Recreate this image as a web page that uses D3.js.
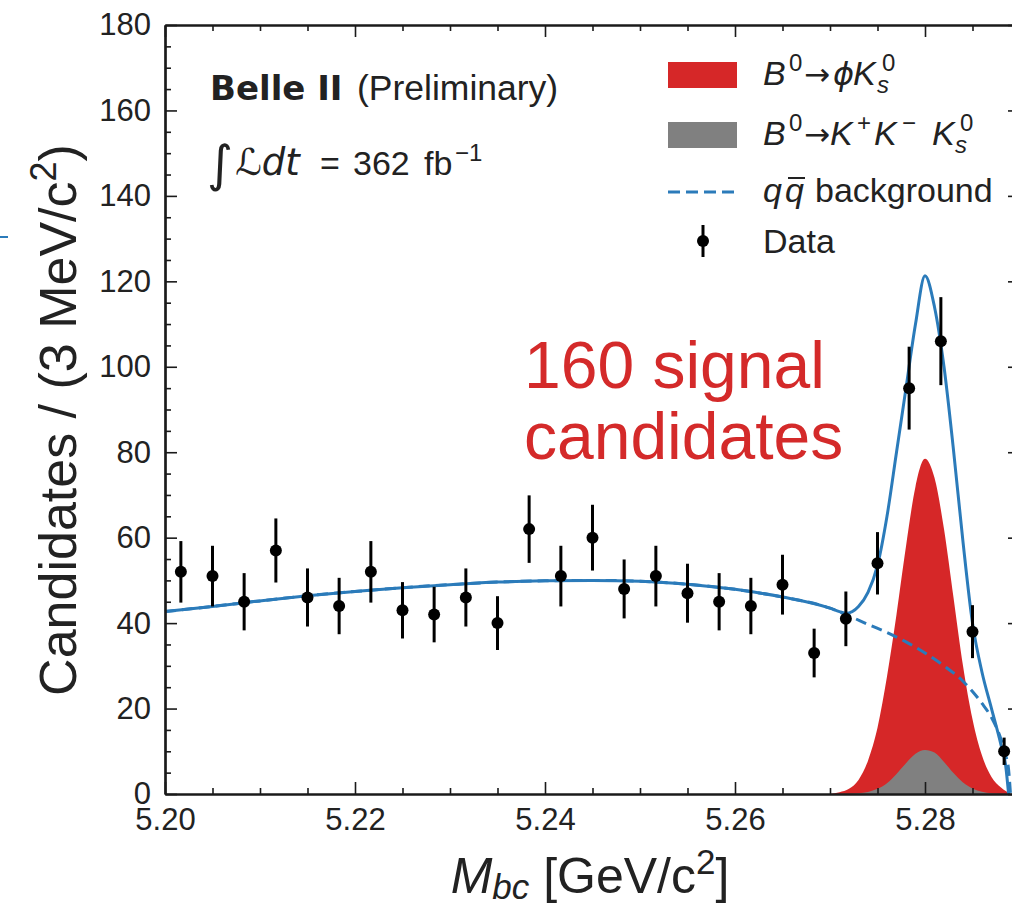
<!DOCTYPE html>
<html><head><meta charset="utf-8">
<script src="https://cdn.jsdelivr.net/npm/d3@7"></script>
<style>body{margin:0;background:#fff} svg{display:block}</style>
</head><body><svg id="c" width="1012" height="905"></svg>
<script>
// ---- data ----
const binCenters = [5.20167,5.20500,5.20833,5.21167,5.21500,5.21833,5.22167,5.22500,5.22833,5.23167,5.23500,5.23833,5.24167,5.24500,5.24833,5.25167,5.25500,5.25833,5.26167,5.26500,5.26833,5.27167,5.27500,5.27833,5.28167,5.28500,5.28833];
const counts = [52,51,45,57,46,44,52,43,42,46,40,62,51,60,48,51,47,45,44,49,33,41,54,95,106,38,10];
const errors = [7.2,7.1,6.7,7.5,6.8,6.6,7.2,6.6,6.5,6.8,6.3,7.9,7.1,7.7,6.9,7.1,6.9,6.7,6.6,7.0,5.7,6.4,7.3,9.7,10.3,6.2,3.2];

// q-qbar background (dashed)
const bkgX = [5.200,5.205,5.210,5.215,5.220,5.225,5.230,5.235,5.240,5.245,5.250,5.255,5.260,5.265,5.270,5.272,5.274,5.276,5.278,5.280,5.282,5.284,5.285,5.286,5.287,5.288,5.2885,5.2888,5.289];
const bkgY = [42.7,43.9,45.2,46.4,47.4,48.3,49.0,49.6,49.9,50.0,49.8,49.1,47.9,46.1,43.5,41.7,39.7,37.8,35.6,33.0,30.0,26.4,24.0,21.2,17.9,12.8,9.0,5.7,0];

// total fit (solid)
const totX = [5.200,5.205,5.210,5.215,5.220,5.225,5.230,5.235,5.240,5.245,5.250,5.255,5.260,5.265,5.270,5.271,5.2717,5.273,5.274,5.275,5.276,5.277,5.278,5.279,5.280,5.281,5.282,5.283,5.284,5.285,5.286,5.287,5.288,5.2885,5.2888];
const totY = [42.7,43.9,45.2,46.4,47.4,48.3,49.0,49.6,49.9,50.0,49.8,49.1,47.9,46.1,43.5,42.7,42.3,43.9,47.2,53.5,65.0,80.0,95.0,110.0,121.3,114.0,100.0,80.5,59.0,40.0,28.5,20.0,11.5,6.5,0];

// signal components
const sigX = [5.270,5.271,5.272,5.273,5.274,5.275,5.276,5.277,5.278,5.279,5.280,5.281,5.282,5.283,5.284,5.285,5.286,5.287,5.288,5.289];
const phiKsY = [0,0.4,1.2,3.3,7.8,15.5,27.5,42,58,72,78.5,74,62,46,30,17.5,9,4,1.5,0];
const kkKsY = [0,0.01,0.05,0.15,0.45,1.2,2.5,4.7,7.2,9.4,10.3,9.7,7.5,4.9,2.7,1.3,0.5,0.17,0.05,0];

const xMajor = [5.20,5.22,5.24,5.26,5.28];
const xMinor = [5.205,5.210,5.215,5.225,5.230,5.235,5.245,5.250,5.255,5.265,5.270,5.275,5.285,5.290];
const yMajor = [0,20,40,60,80,100,120,140,160,180];
const yMinor = [5,10,15,25,30,35,45,50,55,65,70,75,85,90,95,105,110,115,125,130,135,145,150,155,165,170,175];

// ---- drawing ----
const svg = d3.select("#c");
svg.append("rect").attr("width",1012).attr("height",905).attr("fill","#fff");
const x = d3.scaleLinear().domain([5.20,5.29]).range([165,1020]);
const y = d3.scaleLinear().domain([0,180]).range([794,25]);
const BLUE = "#2b7bba", RED = "#d62728", GRAY = "#808080";
const SANS = "'Liberation Sans', Arial, Helvetica, sans-serif";
const DJV = "'DejaVu Sans', sans-serif";

// small artifact at left edge
svg.append("line").attr("x1",0).attr("x2",8).attr("y1",237).attr("y2",237).attr("stroke",BLUE).attr("stroke-width",2);

const sig = sigX.map((v,i)=>({x:v, a:phiKsY[i], b:kkKsY[i]}));
svg.append("path").datum(sig).attr("fill",RED)
  .attr("d", d3.area().x(d=>x(d.x)).y0(y(0)).y1(d=>y(d.a)).curve(d3.curveMonotoneX));
svg.append("path").datum(sig).attr("fill",GRAY)
  .attr("d", d3.area().x(d=>x(d.x)).y0(y(0)).y1(d=>y(d.b)).curve(d3.curveMonotoneX));

const bkg = bkgX.map((v,i)=>[v,bkgY[i]]);
svg.append("path").datum(bkg).attr("fill","none").attr("stroke",BLUE).attr("stroke-width",3)
  .attr("stroke-dasharray","11,6")
  .attr("d", d3.line().x(d=>x(d[0])).y(d=>y(d[1])).curve(d3.curveMonotoneX));
const tot = totX.map((v,i)=>[v,totY[i]]);
svg.append("path").datum(tot).attr("fill","none").attr("stroke",BLUE).attr("stroke-width",3)
  .attr("d", d3.line().x(d=>x(d[0])).y(d=>y(d[1])).curve(d3.curveMonotoneX));

// data points
const pts = binCenters.map((v,i)=>({x:v,c:counts[i],e:errors[i]}));
const g = svg.append("g");
g.selectAll("line").data(pts).join("line")
  .attr("x1",d=>x(d.x)).attr("x2",d=>x(d.x))
  .attr("y1",d=>y(d.c-d.e)).attr("y2",d=>y(d.c+d.e))
  .attr("stroke","#000").attr("stroke-width",3);
g.selectAll("circle").data(pts).join("circle")
  .attr("cx",d=>x(d.x)).attr("cy",d=>y(d.c)).attr("r",6).attr("fill","#000");

// axes
function styleAxis(sel){
  sel.selectAll(".domain").attr("stroke","#1a1a1a").attr("stroke-width",2.2);
  sel.selectAll(".tick line").attr("stroke","#1a1a1a").attr("stroke-width",1.6);
  sel.selectAll("text").attr("font-family",SANS).attr("font-size",31).attr("fill","#222");
}
const fmtX = d3.format(".2f");
const ax = svg.append("g").attr("transform","translate(0,794)")
  .call(d3.axisBottom(x).tickValues(xMajor).tickFormat(fmtX).tickSize(-12).tickSizeOuter(0).tickPadding(14));
styleAxis(ax);
const axm = svg.append("g").attr("transform","translate(0,794)")
  .call(d3.axisBottom(x).tickValues(xMinor).tickFormat("").tickSize(-6).tickSizeOuter(0));
styleAxis(axm);
const ay = svg.append("g").attr("transform","translate(165,0)")
  .call(d3.axisLeft(y).tickValues(yMajor).tickFormat(d3.format("d")).tickSize(-12).tickSizeOuter(0).tickPadding(14));
styleAxis(ay);
const aym = svg.append("g").attr("transform","translate(165,0)")
  .call(d3.axisLeft(y).tickValues(yMinor).tickFormat("").tickSize(-6).tickSizeOuter(0));
styleAxis(aym);
[[d3.axisTop(x).tickValues(xMajor),-12,"translate(0,25)"],[d3.axisTop(x).tickValues(xMinor),-6,"translate(0,25)"],
 [d3.axisRight(y).tickValues(yMajor),-12,"translate(1020,0)"],[d3.axisRight(y).tickValues(yMinor),-6,"translate(1020,0)"]]
 .forEach(([a,s,t])=>{ const gg=svg.append("g").attr("transform",t).call(a.tickFormat("").tickSize(s).tickSizeOuter(0)); styleAxis(gg); });

// axis titles
const yl = svg.append("text").attr("transform","translate(76,420) rotate(-90)")
  .attr("text-anchor","middle").attr("font-family",SANS).attr("font-size",52).attr("fill","#222");
yl.append("tspan").text("Candidates / (3 MeV/c");
yl.append("tspan").attr("font-size",36).attr("dy",-20).text("2");
yl.append("tspan").attr("dy",20).text(")");

const xl = svg.append("text").attr("x",590).attr("y",893).attr("text-anchor","middle")
  .attr("font-family",SANS).attr("font-size",50).attr("fill","#222");
xl.append("tspan").attr("font-style","italic").text("M");
xl.append("tspan").attr("font-style","italic").attr("font-size",35).attr("dy",6).text("bc");
xl.append("tspan").attr("dy",-6).text(" [GeV/c");
xl.append("tspan").attr("font-size",35).attr("dy",-19).text("2");
xl.append("tspan").attr("dy",19).text("]");

// Belle II labels
const bt = svg.append("text").attr("x",210).attr("y",100).attr("font-size",34).attr("fill","#222");
bt.append("tspan").attr("font-family",DJV).attr("font-weight","bold").text("Belle II");
bt.append("tspan").attr("x",357).attr("font-family",SANS).attr("font-size",35.5).text("(Preliminary)");

const lt = svg.append("text").attr("y",175).attr("font-family",SANS).attr("font-size",34).attr("fill","#222");
lt.append("tspan").attr("x",207).attr("font-family",DJV).attr("font-size",50).attr("dy",6).text("∫");
lt.append("tspan").attr("x",235).attr("font-family",DJV).attr("font-style","italic").attr("font-size",37).attr("dy",-6).text("ℒdt");
lt.append("tspan").attr("x",320).text("=");
lt.append("tspan").attr("x",353).text("362");
lt.append("tspan").attr("x",424).text("fb");
lt.append("tspan").attr("x",455).attr("font-size",24).attr("dy",-14).text("−1");

// red annotation
const rt = svg.append("text").attr("font-family",SANS).attr("font-size",66).attr("fill","#d42a2a");
rt.append("tspan").attr("x",524).attr("y",388).text("160 signal");
rt.append("tspan").attr("x",524).attr("y",459).text("candidates");

// legend
const L = svg.append("g");
L.append("rect").attr("x",668).attr("y",62).attr("width",69).attr("height",26).attr("fill",RED);
L.append("rect").attr("x",668).attr("y",122).attr("width",69).attr("height",26).attr("fill",GRAY);
L.append("line").attr("x1",668).attr("x2",737).attr("y1",192).attr("y2",192).attr("stroke",BLUE).attr("stroke-width",3).attr("stroke-dasharray","12,6");
L.append("line").attr("x1",703).attr("x2",703).attr("y1",225).attr("y2",257).attr("stroke","#000").attr("stroke-width",3);
L.append("circle").attr("cx",703).attr("cy",241).attr("r",6).attr("fill","#000");

function lgText(yb){ return L.append("text").attr("y",yb).attr("font-family",SANS).attr("font-size",34).attr("fill","#222"); }
function piece(t, xp, txt, opt){
  const s = t.append("tspan").attr("x",xp).text(txt);
  if(opt.it) s.attr("font-style","italic");
  if(opt.fs) s.attr("font-size",opt.fs);
  if(opt.ff) s.attr("font-family",opt.ff);
  if(opt.dy!==undefined) s.attr("dy",opt.dy);
  return s;
}
let t1 = lgText(85);
piece(t1,763,"B",{it:1});
piece(t1,789,"0",{fs:24,dy:-14});
piece(t1,804,"→",{ff:DJV,fs:31,dy:14});
piece(t1,833,"ϕ",{it:1,ff:DJV,fs:32});
piece(t1,853,"K",{it:1});
piece(t1,882,"0",{fs:24,dy:-14});
piece(t1,877,"s",{it:1,fs:24,dy:22});
let t2 = lgText(145);
piece(t2,763,"B",{it:1});
piece(t2,789,"0",{fs:24,dy:-14});
piece(t2,804,"→",{ff:DJV,fs:31,dy:14});
piece(t2,830,"K",{it:1});
piece(t2,857,"+",{fs:24,dy:-14});
piece(t2,874,"K",{it:1,dy:14});
piece(t2,902,"−",{fs:24,dy:-14});
piece(t2,932,"K",{it:1,dy:14});
piece(t2,960,"0",{fs:24,dy:-14});
piece(t2,955,"s",{it:1,fs:24,dy:22});
let t3 = lgText(202);
piece(t3,763,"q",{it:1});
piece(t3,785,"q",{it:1});
piece(t3,815,"background",{});
L.append("line").attr("x1",788).attr("x2",805).attr("y1",178).attr("y2",178).attr("stroke","#222").attr("stroke-width",2);
let t4 = lgText(253); piece(t4,763,"Data",{});
</script></body></html>
